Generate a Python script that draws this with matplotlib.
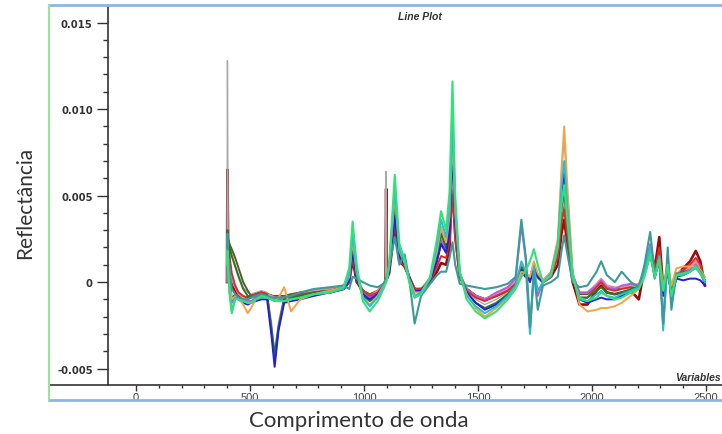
import matplotlib
matplotlib.use("Agg")
import matplotlib.pyplot as plt
from matplotlib.lines import Line2D
import numpy as np

# wavelength grid (nm)
wavelength = [
    399, 401, 404, 410, 420, 435, 450, 470, 490, 505,
    525, 550, 575, 595, 608, 625, 650, 680, 720, 780,
    850, 910, 935, 950, 968, 995, 1025, 1060, 1085, 1094,
    1097, 1100, 1110, 1135, 1155, 1178, 1198, 1222, 1250, 1290,
    1320, 1338, 1360, 1375, 1388, 1400, 1420, 1450, 1490, 1530,
    1580, 1630, 1665, 1690, 1710, 1728, 1745, 1762, 1785, 1820,
    1850, 1866, 1878, 1892, 1915, 1945, 1980, 2020, 2040, 2065,
    2100, 2130, 2170, 2205, 2230, 2255, 2275, 2295, 2312, 2332,
    2348, 2370, 2400, 2430, 2455, 2475, 2495]

# spectra values (x 1e-3)
s_gray = [
    0.0, 12.8, 2.8, 2.2, 1.6, 1.0, 0.4, -0.3, -0.6, -0.7,
    -0.6, -0.5, -0.6, -2.4, -4.0, -2.3, -0.8, -0.7, -0.6, -0.5,
    -0.4, -0.2, 0.3, 2.2, 0.4, -0.6, -0.9, -0.6, -0.1, 0.1,
    6.4, 0.3, 0.9, 4.8, 1.7, 1.1, 0.3, -0.4, -0.4, 0.3,
    1.9, 3.0, 2.2, 3.8, 10.0, 4.5, 0.6, -0.5, -1.0, -1.3,
    -1.0, -0.6, -0.2, 0.9, 0.5, 0.1, 1.0, 0.4, 0.1, 0.5,
    2.4, 6.3, 8.3, 5.0, 0.6, -0.7, -0.7, -0.3, 0.0, -0.3,
    -0.5, -0.4, -0.2, -0.1, 0.6, 1.9, 0.3, 1.4, -0.7, 1.2,
    -0.9, 0.5, 0.6, 0.8, 1.1, 0.7, 0.0]
s_olive = [
    2.2, 3.0, 2.5, 2.2, 1.9, 1.4, 0.8, 0.0, -0.5, -0.8,
    -0.7, -0.6, -0.7, -0.8, -0.8, -0.8, -0.8, -0.7, -0.6, -0.5,
    -0.4, -0.2, 0.2, 1.8, 0.2, -0.5, -0.7, -0.5, -0.1, 0.1,
    0.1, 0.2, 0.7, 3.9, 1.4, 1.0, 0.3, -0.4, -0.4, 0.1,
    1.3, 2.2, 1.7, 2.8, 6.0, 2.9, 0.4, -0.4, -0.8, -1.0,
    -0.7, -0.4, 0.0, 0.8, 0.4, 0.1, 0.8, 0.3, 0.0, 0.4,
    1.6, 3.8, 4.6, 2.9, 0.3, -0.7, -0.7, -0.2, 0.1, -0.3,
    -0.4, -0.3, -0.2, -0.2, 0.5, 1.7, 0.4, 1.6, -0.5, 1.0,
    -0.7, 0.4, 0.6, 0.8, 1.2, 0.8, 0.0]
s_pink = [
    1.8, 2.6, 1.9, 1.0, 0.2, -0.3, -0.7, -0.9, -1.0, -0.9,
    -0.8, -0.7, -0.7, -0.8, -0.9, -0.9, -0.9, -0.8, -0.7, -0.5,
    -0.4, -0.2, 0.2, 2.1, 0.3, -0.5, -0.8, -0.5, -0.1, 0.1,
    0.2, 0.3, 0.8, 4.2, 1.5, 1.0, 0.3, -0.4, -0.4, 0.2,
    1.5, 2.6, 1.9, 3.2, 6.8, 3.2, 0.5, -0.4, -0.8, -1.0,
    -0.7, -0.4, 0.0, 1.0, 0.5, 0.2, 1.0, 0.4, 0.1, 0.5,
    1.8, 4.0, 4.8, 3.0, 0.4, -0.6, -0.6, -0.1, 0.2, -0.2,
    -0.3, -0.3, -0.2, -0.1, 0.6, 1.9, 0.3, 1.5, -0.5, 1.2,
    -0.8, 0.5, 0.7, 0.8, 1.2, 0.8, 0.1]
s_purple = [
    1.5, 2.3, 1.2, -0.2, -1.2, -0.8, -0.9, -1.0, -1.1, -1.1,
    -0.9, -0.8, -0.9, -1.0, -1.0, -1.0, -1.0, -0.9, -0.8, -0.6,
    -0.5, -0.3, 0.1, 1.6, 0.2, -0.6, -0.9, -0.7, -0.2, 0.0,
    0.1, 0.2, 0.7, 3.9, 1.4, 1.2, 0.2, -0.9, -0.6, 0.1,
    1.3, 2.4, 1.8, 3.0, 7.2, 3.4, 0.4, -0.4, -0.8, -1.0,
    -0.6, -0.3, 0.2, 3.3, 1.2, -2.8, 0.5, -0.8, 0.0, 0.3,
    1.8, 4.5, 5.8, 3.6, 0.4, -0.6, -0.6, -0.2, 0.1, -0.3,
    -0.4, -0.2, -0.1, -0.2, 0.7, 2.2, 0.2, 1.6, -2.5, 1.4,
    -1.2, 0.4, 0.5, 0.7, 1.0, 0.6, 0.0]
s_red = [
    2.0, 2.9, 2.3, 1.5, 0.5, -0.2, -0.6, -0.8, -0.9, -0.8,
    -0.7, -0.6, -0.7, -2.9, -4.5, -2.7, -0.9, -0.8, -0.7, -0.6,
    -0.5, -0.4, 0.0, 1.5, 0.1, -0.5, -0.8, -0.6, -0.2, 0.0,
    0.1, 0.2, 0.6, 3.5, 1.3, 0.9, 0.3, -0.4, -0.4, 0.0,
    0.9, 1.5, 1.4, 2.4, 5.0, 2.4, 0.3, -0.5, -0.9, -1.1,
    -0.8, -0.5, -0.1, 0.9, 0.4, 0.2, 0.8, 0.3, 0.0, 0.4,
    1.4, 3.4, 4.2, 2.6, 0.2, -0.9, -0.9, -0.3, 0.0, -0.4,
    -0.5, -0.4, -0.3, -0.4, 0.6, 1.8, 0.6, 2.0, -0.3, 0.8,
    -0.6, 0.4, 0.7, 1.0, 1.4, 1.0, 0.0]
s_darkgreen = [
    2.0, 2.9, 2.3, 2.0, 1.5, 0.9, 0.3, -0.4, -0.8, -0.9,
    -0.8, -0.7, -0.8, -2.8, -4.2, -2.6, -1.0, -0.9, -0.8, -0.6,
    -0.5, -0.3, 0.1, 1.9, 0.2, -0.8, -1.1, -0.8, -0.2, 0.0,
    0.1, 0.2, 0.8, 4.4, 1.6, 1.1, 0.3, -0.6, -0.5, 0.2,
    1.6, 2.8, 2.0, 3.3, 7.7, 3.8, 0.5, -0.6, -1.2, -1.5,
    -1.2, -0.7, -0.2, 0.8, 0.5, 0.2, 1.1, 0.4, 0.0, 0.5,
    2.0, 4.3, 5.2, 3.4, 0.3, -0.9, -0.9, -0.5, -0.3, -0.6,
    -0.7, -0.6, -0.4, -0.3, 0.5, 1.7, 0.3, 1.3, -0.6, 1.0,
    -0.9, 0.3, 0.4, 0.6, 0.9, 0.5, 0.0]
s_blue = [
    1.8, 2.6, 1.7, 0.3, -1.0, -0.7, -1.0, -1.2, -1.3, -1.2,
    -1.1, -1.0, -1.0, -3.2, -4.9, -2.8, -1.2, -1.1, -1.0, -0.8,
    -0.6, -0.4, 0.1, 1.8, 0.2, -0.7, -1.0, -0.7, -0.2, 0.0,
    0.1, 0.2, 0.6, 3.8, 1.5, 1.0, 0.3, -0.5, -0.5, 0.1,
    1.2, 2.2, 1.7, 2.8, 8.0, 3.5, 0.4, -0.6, -1.2, -1.6,
    -1.3, -0.8, -0.3, 0.7, 0.4, 0.0, 0.9, 0.3, 0.0, 0.5,
    2.2, 5.2, 6.4, 4.0, 0.4, -1.0, -1.2, -1.0, -0.9, -1.0,
    -1.0, -0.8, -0.6, -0.4, 0.4, 1.6, 0.3, 1.2, -0.8, 0.9,
    -0.9, 0.2, 0.1, 0.2, 0.2, 0.1, -0.2]
s_orange = [
    1.5, 2.4, 1.4, 0.0, -1.0, -0.8, -0.9, -1.3, -1.8, -1.5,
    -1.0, -0.8, -0.9, -1.0, -1.1, -0.9, -0.3, -1.7, -1.0, -0.7,
    -0.5, -0.3, 0.3, 2.4, 0.5, -0.9, -1.3, -0.8, -0.2, 0.0,
    0.1, 0.2, 0.9, 5.0, 1.8, 1.1, 0.2, -0.6, -0.6, 0.2,
    1.8, 3.2, 2.3, 3.8, 8.5, 4.0, 0.5, -0.7, -1.5, -2.0,
    -1.5, -0.9, -0.3, 0.6, 0.5, 0.3, 1.2, 0.5, 0.1, 0.6,
    2.5, 6.5, 9.0, 5.5, 0.6, -1.3, -1.7, -1.6, -1.5, -1.5,
    -1.4, -1.2, -0.8, -0.4, 0.6, 1.8, 0.4, 1.4, -0.3, 1.1,
    -0.2, 0.8, 0.9, 0.9, 0.9, 0.7, 0.3]
s_cyan = [
    1.2, 2.0, 0.8, -0.6, -1.7, -0.9, -1.0, -1.1, -1.2, -1.2,
    -1.0, -0.9, -0.9, -1.0, -1.1, -1.1, -1.1, -1.0, -0.9, -0.7,
    -0.6, -0.4, 0.4, 2.8, 0.6, -0.9, -1.4, -0.9, -0.3, 0.0,
    0.1, 0.2, 0.9, 5.4, 1.9, 1.2, 0.1, -0.8, -0.6, 0.2,
    2.1, 3.6, 2.6, 4.2, 9.2, 4.3, 0.5, -0.8, -1.4, -1.8,
    -1.4, -0.8, -0.2, 1.2, 0.6, -3.0, 0.9, -0.5, 0.0, 0.5,
    2.2, 5.5, 7.0, 4.3, 0.4, -1.0, -1.1, -0.7, -0.5, -0.8,
    -0.9, -0.7, -0.5, -0.3, 0.6, 2.0, 0.2, 1.5, -2.8, 1.3,
    -1.1, 0.4, 0.4, 0.6, 0.8, 0.5, 0.0]
s_darkred = [
    0.0, 6.5, 2.4, 1.2, -0.2, -0.5, -0.8, -0.9, -0.9, -0.8,
    -0.7, -0.6, -0.7, -0.8, -0.9, -0.9, -0.9, -0.8, -0.7, -0.6,
    -0.6, -0.4, 0.0, 1.3, 0.0, -0.5, -0.8, -0.6, -0.2, 0.0,
    5.4, 0.2, 0.5, 3.2, 1.2, 0.9, 0.3, -0.4, -0.4, 0.0,
    0.6, 1.1, 1.0, 2.0, 6.4, 2.8, 0.3, -0.4, -0.8, -1.0,
    -0.8, -0.5, -0.1, 0.6, 0.3, 0.2, 0.7, 0.3, 0.0, 0.3,
    1.0, 2.8, 3.6, 2.2, 0.0, -1.3, -1.3, -0.5, -0.2, -0.6,
    -0.7, -0.6, -0.5, -1.0, 0.8, 2.0, 0.8, 2.6, -0.4, 0.6,
    -0.5, 0.3, 0.8, 1.2, 1.8, 1.2, -0.2]
s_teal = [
    2.0, 2.8, 1.6, 0.8, -0.4, -0.7, -0.9, -1.0, -1.0, -0.9,
    -0.8, -0.7, -0.8, -0.9, -0.9, -0.9, -0.9, -0.8, -0.6, -0.4,
    -0.3, -0.2, -0.4, 0.3, 0.2, 0.0, -0.2, -0.3, -0.1, 0.1,
    0.2, 0.3, 0.9, 2.6, 1.0, 1.6, 0.2, -2.4, -0.8, -0.1,
    0.4, 0.6, 0.6, 1.4, 2.3, 1.0, -0.1, -0.2, -0.3, -0.4,
    -0.3, -0.1, 0.3, 3.6, 1.4, -2.6, 0.6, -1.6, -0.2, 0.0,
    0.3, 1.8, 2.7, 1.6, 0.0, -0.3, -0.2, 0.6, 1.2, 0.4,
    0.0, 0.6, 0.0, -0.3, 1.0, 2.9, 0.5, 1.2, -2.4, 2.0,
    -1.6, 0.5, 0.5, 0.6, 0.9, 0.6, 0.1]
s_green = [
    1.0, 1.8, 0.8, -0.6, -1.8, -1.0, -1.0, -1.1, -1.2, -1.2,
    -1.0, -0.8, -0.9, -1.0, -1.1, -1.1, -1.1, -1.0, -0.9, -0.7,
    -0.6, -0.3, 0.8, 3.5, 1.0, -1.1, -1.7, -1.1, -0.4, -0.1,
    0.0, 0.1, 1.0, 6.2, 2.2, 1.3, 0.0, -0.9, -0.7, 0.3,
    2.5, 4.1, 3.0, 5.2, 11.6, 5.0, 0.6, -1.0, -1.7, -2.1,
    -1.7, -1.0, -0.4, 0.3, 0.7, 1.2, 1.9, 1.0, 0.0, 0.4,
    2.0, 4.5, 5.6, 3.5, 0.3, -0.9, -1.1, -0.9, -0.6, -0.8,
    -1.0, -0.9, -0.6, -0.4, 0.3, 1.6, 0.3, 1.3, -0.5, 1.0,
    -0.8, 0.4, 0.5, 0.6, 0.9, 0.5, 0.1]

series = [s_darkred, s_gray, s_olive, s_pink, s_purple, s_red, s_darkgreen, s_blue,
          s_orange, s_cyan, s_teal, s_green]
colors = ["#9b0a0a", "#a9a9a9", "#5a5a30", "#e58fa3", "#b45ee0", "#dd2b2b", "#237a23",
          "#1f1fe0", "#f4a347", "#29bcd4", "#3b9b9b", "#33e07a"]
widths = [1.9, 1.0, 1.4, 1.4, 1.4, 1.4, 1.4, 1.4, 1.4, 1.4, 1.5, 1.5]

xtick_vals = [0, 500, 1000, 1500, 2000, 2500]
xtick_labels = ["0", "500", "1000", "1500", "2000", "2500"]
ytick_vals = [-0.005, 0.0, 0.005, 0.010, 0.015]
ytick_labels = ["-0.005", "0", "0.005", "0.010", "0.015"]

W, H = 722, 435
fig = plt.figure(figsize=(W / 100, H / 100), dpi=100)
ax = fig.add_axes([49 / W, 1 - 386 / H, (W - 49) / W, (386 - 8) / H])
ax.set_xlim(-381.6, 2570)
ax.set_ylim(-0.00595, 0.0159)

for vals, c, lw in zip(series, colors, widths):
    ax.plot(wavelength, np.array(vals) * 1e-3, color=c, lw=lw, solid_joinstyle="round")

for s in ("top", "right"):
    ax.spines[s].set_visible(False)
ax.spines["left"].set_position(("data", -123))
ax.spines["left"].set_color("#333333")
ax.spines["bottom"].set_color("#333333")
ax.spines["left"].set_linewidth(1.2)
ax.spines["bottom"].set_linewidth(1.2)

ax.set_xticks(xtick_vals)
ax.set_xticklabels(xtick_labels, fontsize=8, color="#444444",
                   family=["Liberation Sans Narrow", "Liberation Sans"])
ax.set_xticks([v for v in range(100, 2600, 100) if v % 500 != 0], minor=True)
ax.set_yticks(ytick_vals)
ax.set_yticklabels(ytick_labels, fontsize=7.2, fontweight="bold", color="#333333",
                   family="DejaVu Sans")
ax.set_yticks([v / 1000 for v in range(-5, 16) if v % 5 != 0], minor=True)
ax.tick_params(axis="x", which="major", direction="out", length=4, width=1, pad=0.8,
               color="#333333")
ax.tick_params(axis="x", which="minor", direction="out", length=2, width=1,
               color="#333333")
ax.tick_params(axis="y", which="major", direction="out", length=8, width=1, pad=3,
               color="#333333")
ax.tick_params(axis="y", which="minor", direction="out", length=3.5, width=1,
               color="#333333")

# outer frame
fig.add_artist(Line2D([49 / W, 1], [1 - 6 / H] * 2, color="#8fb3e6", lw=2,
                      transform=fig.transFigure))
fig.add_artist(Line2D([49 / W, 1], [1 - 400.5 / H] * 2, color="#8fb3e6", lw=2,
                      transform=fig.transFigure))
fig.add_artist(Line2D([49 / W] * 2, [1 - 6 / H, 1 - 400.5 / H], color="#9be39b", lw=1.5,
                      transform=fig.transFigure))

fig.text(420 / W, 1 - 17 / H, "Line Plot", ha="center", va="center", fontsize=7.5,
         fontweight="bold", fontstyle="italic", color="#333333", family="Liberation Sans")
fig.text(721 / W, 1 - 378 / H, "Variables", ha="right", va="center", fontsize=7.5,
         fontweight="bold", fontstyle="italic", color="#333333", family="Liberation Sans")
fig.text(25 / W, 1 - 203 / H, "Reflectância", rotation=90, ha="center", va="center",
         fontsize=15, family="Lato", color="#333333")
fig.text(359 / W, 1 - 421 / H, "Comprimento de onda", ha="center", va="center",
         fontsize=16, family="Lato", color="#333333")

fig.savefig("out.png", dpi=100)
